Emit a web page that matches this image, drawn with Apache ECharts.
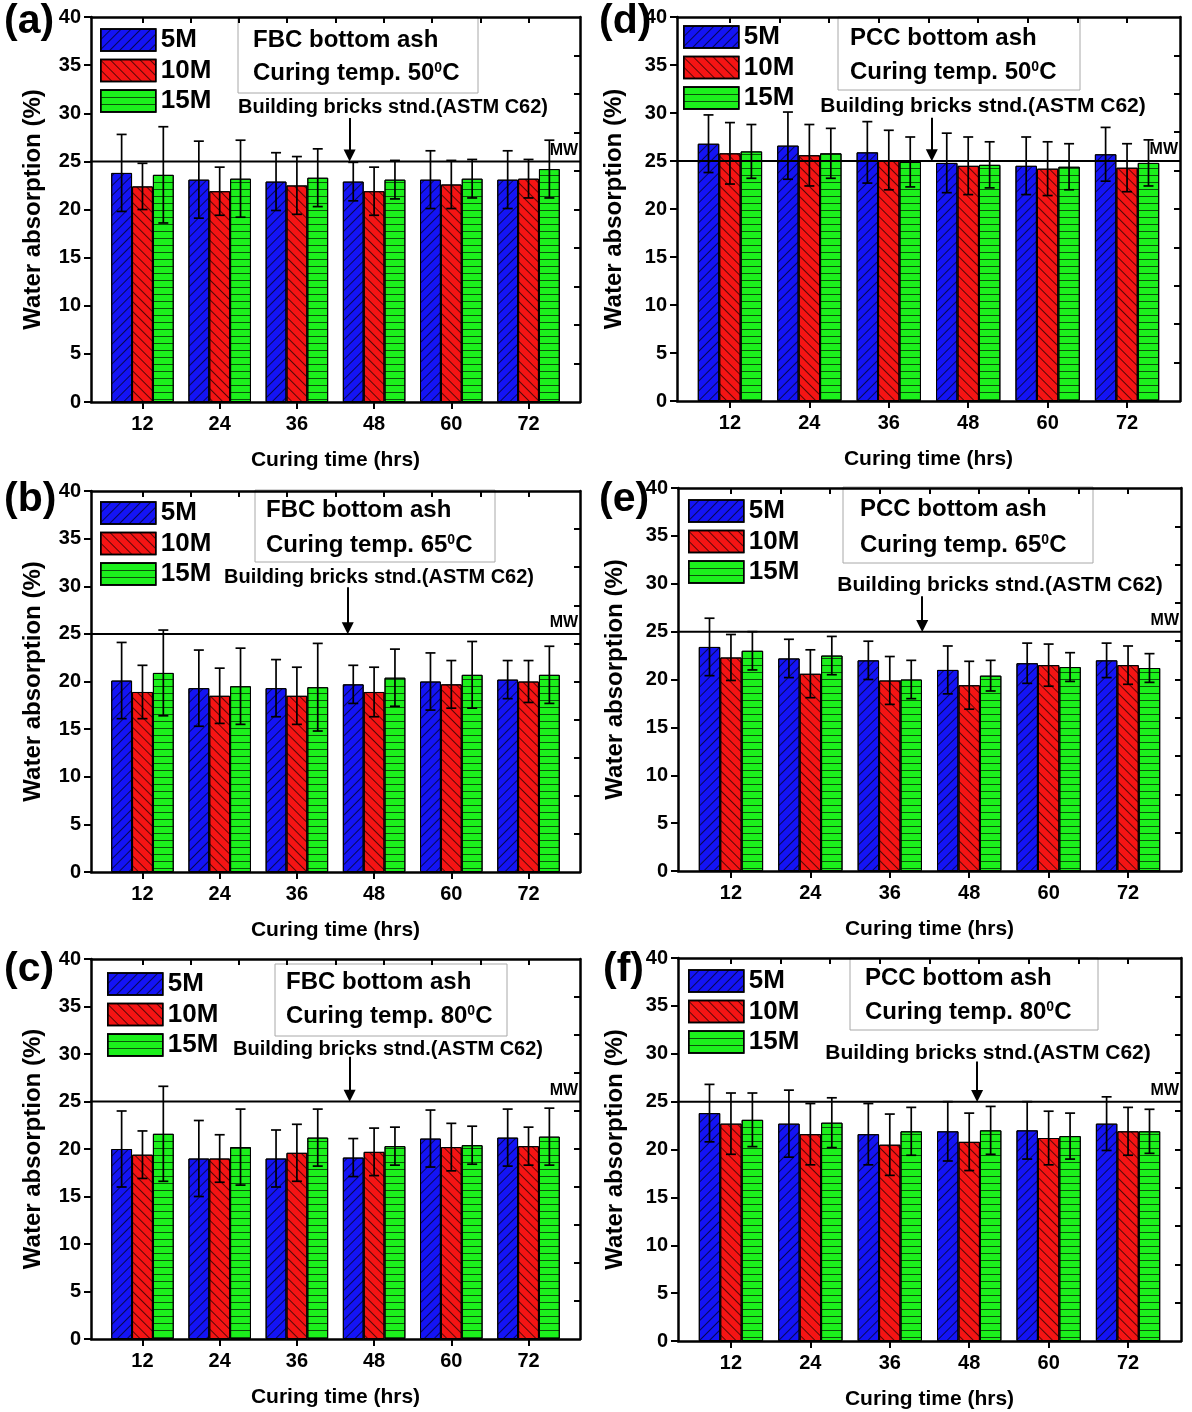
<!DOCTYPE html>
<html><head><meta charset="utf-8">
<script src="https://cdn.jsdelivr.net/npm/echarts@6/dist/echarts.min.js"></script>
<style>html,body{margin:0;padding:0;background:#fff}#c{width:1192px;height:1412px}</style>
</head><body><div id="c"></div>
<script>
// ---------------- data ----------------
const curingTimes = [12, 24, 36, 48, 60, 72];
const seriesNames = ['5M', '10M', '15M'];
const yTickValues = [0, 5, 10, 15, 20, 25, 30, 35, 40];
const topTickValues = [12, 19.5, 27, 34.5, 42, 49.5, 57, 64.5, 72];
const rightTickValues = [4, 8, 12, 16, 20, 24, 28, 32, 36];
const mwLevel = 25;

// (a) FBC bottom ash, 50 C
const fbc50_5M = [23.8, 23.1, 22.9, 22.9, 23.1, 23.1];
const fbc50_5M_err = [4.0, 4.0, 3.0, 2.0, 3.0, 3.0];
const fbc50_10M = [22.4, 21.9, 22.5, 21.9, 22.6, 23.2];
const fbc50_10M_err = [2.4, 2.5, 3.0, 2.5, 2.5, 2.0];
const fbc50_15M = [23.6, 23.2, 23.3, 23.1, 23.2, 24.2];
const fbc50_15M_err = [5.0, 4.0, 3.0, 2.0, 2.0, 3.0];
// (b) FBC bottom ash, 65 C
const fbc65_5M = [20.1, 19.3, 19.3, 19.7, 20.0, 20.2];
const fbc65_5M_err = [4.0, 4.0, 3.0, 2.0, 3.0, 2.0];
const fbc65_10M = [18.9, 18.5, 18.5, 18.9, 19.7, 20.0];
const fbc65_10M_err = [2.8, 2.9, 3.0, 2.6, 2.5, 2.2];
const fbc65_15M = [20.9, 19.5, 19.4, 20.4, 20.7, 20.7];
const fbc65_15M_err = [4.5, 4.0, 4.6, 3.0, 3.5, 3.0];
// (c) FBC bottom ash, 80 C
const fbc80_5M = [20.0, 19.0, 19.0, 19.1, 21.1, 21.2];
const fbc80_5M_err = [4.0, 4.0, 3.0, 2.0, 3.0, 3.0];
const fbc80_10M = [19.4, 19.0, 19.6, 19.7, 20.2, 20.3];
const fbc80_10M_err = [2.5, 2.5, 3.0, 2.5, 2.5, 2.0];
const fbc80_15M = [21.6, 20.2, 21.2, 20.3, 20.4, 21.3];
const fbc80_15M_err = [5.0, 4.0, 3.0, 2.0, 2.0, 3.0];
// (d) PCC bottom ash, 50 C
const pcc50_5M = [26.8, 26.6, 25.9, 24.8, 24.5, 25.7];
const pcc50_5M_err = [3.0, 3.5, 3.2, 3.1, 3.0, 2.8];
const pcc50_10M = [25.8, 25.6, 25.1, 24.5, 24.2, 24.3];
const pcc50_10M_err = [3.2, 3.2, 3.1, 3.0, 2.8, 2.5];
const pcc50_15M = [26.0, 25.8, 24.9, 24.6, 24.4, 24.8];
const pcc50_15M_err = [2.8, 2.6, 2.6, 2.4, 2.4, 2.4];
// (e) PCC bottom ash, 65 C
const pcc65_5M = [23.4, 22.2, 22.0, 21.0, 21.7, 22.0];
const pcc65_5M_err = [3.0, 2.0, 2.0, 2.5, 2.1, 1.8];
const pcc65_10M = [22.3, 20.6, 19.9, 19.4, 21.5, 21.5];
const pcc65_10M_err = [2.4, 2.5, 2.5, 2.5, 2.2, 2.0];
const pcc65_15M = [23.0, 22.5, 20.0, 20.4, 21.3, 21.2];
const pcc65_15M_err = [2.0, 2.0, 2.0, 1.6, 1.5, 1.5];
// (f) PCC bottom ash, 80 C
const pcc80_5M = [23.8, 22.7, 21.6, 21.9, 22.0, 22.7];
const pcc80_5M_err = [3.0, 3.5, 3.2, 3.1, 3.0, 2.8];
const pcc80_10M = [22.7, 21.6, 20.5, 20.8, 21.2, 21.9];
const pcc80_10M_err = [3.2, 3.2, 3.2, 3.0, 2.8, 2.5];
const pcc80_15M = [23.1, 22.8, 21.9, 22.0, 21.4, 21.9];
const pcc80_15M_err = [2.8, 2.6, 2.5, 2.5, 2.4, 2.3];

// ---------------- layout / style ----------------
const FONT = "'Liberation Sans', Arial, sans-serif";
const X_MIN = 4, X_MAX = 80, Y_MIN = 0, Y_MAX = 40;
const BAR_FRAC = 0.27;
const COLORS = ['#1414f5', '#f51414', '#1cf01c'];
const DECALS = [
  {symbol: 'rect', symbolSize: 1, dashArrayX: [1, 0], dashArrayY: [1, 6], rotation: -Math.PI / 4, color: 'rgba(0,0,0,0.65)'},
  {symbol: 'rect', symbolSize: 1, dashArrayX: [1, 0], dashArrayY: [1, 6], rotation: Math.PI / 4, color: 'rgba(0,0,0,0.65)'},
  {symbol: 'rect', symbolSize: 1, dashArrayX: [1, 0], dashArrayY: [1, 6], rotation: 0, color: 'rgba(0,0,0,0.65)'}
];

const panels = [
  {letter: '(a)', ash: 'FBC bottom ash', temp: '50', vals: [fbc50_5M, fbc50_10M, fbc50_15M], errs: [fbc50_5M_err, fbc50_10M_err, fbc50_15M_err],
   grid: {left: 91, top: 17, width: 489, height: 385}, legend: {left: 100, top: 27},
   box: {x: 238, y: 17, w: 240, h: 76, tx: 253, t1: 40, t2: 73}, letterPos: {x: 4, y: 22},
   stnd: {x: 393, y: 107, size: 20}, arrow: {x: 44.2, y: 29.5}, yNameGap: 46},
  {letter: '(b)', ash: 'FBC bottom ash', temp: '65', vals: [fbc65_5M, fbc65_10M, fbc65_15M], errs: [fbc65_5M_err, fbc65_10M_err, fbc65_15M_err],
   grid: {left: 91, top: 491, width: 489, height: 381}, legend: {left: 100, top: 500},
   box: {x: 255, y: 490, w: 240, h: 72, tx: 266, t1: 510, t2: 545}, letterPos: {x: 4, y: 500},
   stnd: {x: 379, y: 577, size: 20}, arrow: {x: 43.9, y: 29.9}, yNameGap: 46},
  {letter: '(c)', ash: 'FBC bottom ash', temp: '80', vals: [fbc80_5M, fbc80_10M, fbc80_15M], errs: [fbc80_5M_err, fbc80_10M_err, fbc80_15M_err],
   grid: {left: 91, top: 959, width: 489, height: 380}, legend: {left: 107, top: 971},
   box: {x: 275, y: 964, w: 232, h: 72, tx: 286, t1: 982, t2: 1016}, letterPos: {x: 4, y: 970},
   stnd: {x: 388, y: 1049, size: 20}, arrow: {x: 44.2, y: 29.7}, yNameGap: 46},
  {letter: '(d)', ash: 'PCC bottom ash', temp: '50', vals: [pcc50_5M, pcc50_10M, pcc50_15M], errs: [pcc50_5M_err, pcc50_10M_err, pcc50_15M_err],
   grid: {left: 677, top: 17, width: 503, height: 384}, legend: {left: 683, top: 24},
   box: {x: 838, y: 17, w: 242, h: 73, tx: 850, t1: 38, t2: 72}, letterPos: {x: 599, y: 22},
   stnd: {x: 983, y: 106, size: 21}, arrow: {x: 42.5, y: 29.5}, yNameGap: 51},
  {letter: '(e)', ash: 'PCC bottom ash', temp: '65', vals: [pcc65_5M, pcc65_10M, pcc65_15M], errs: [pcc65_5M_err, pcc65_10M_err, pcc65_15M_err],
   grid: {left: 678, top: 488, width: 503, height: 383}, legend: {left: 688, top: 498},
   box: {x: 843, y: 487, w: 250, h: 76, tx: 860, t1: 509, t2: 545}, letterPos: {x: 599, y: 500},
   stnd: {x: 1000, y: 585, size: 21}, arrow: {x: 40.9, y: 28.7}, yNameGap: 51},
  {letter: '(f)', ash: 'PCC bottom ash', temp: '80', vals: [pcc80_5M, pcc80_10M, pcc80_15M], errs: [pcc80_5M_err, pcc80_10M_err, pcc80_15M_err],
   grid: {left: 678, top: 958, width: 503, height: 383}, legend: {left: 688, top: 968},
   box: {x: 850, y: 958, w: 248, h: 72, tx: 865, t1: 978, t2: 1012}, letterPos: {x: 603, y: 970},
   stnd: {x: 988, y: 1053, size: 21}, arrow: {x: 49.2, y: 29.2}, yNameGap: 51}
];

const AXIS_LINE = {show: true, onZero: false, lineStyle: {color: '#000', width: 2.5}};
const boldText = (size) => ({color: '#000', fontSize: size, fontWeight: 'bold', fontFamily: FONT});

const option = {animation: false, backgroundColor: '#fff', grid: [], xAxis: [], yAxis: [], legend: [], series: [], graphic: []};
const step = curingTimes[1] - curingTimes[0];

panels.forEach((p, i) => {
  option.grid.push(Object.assign({show: false, containLabel: false, outerBoundsMode: 'none'}, p.grid));
  const xi = option.xAxis.length, yi = option.yAxis.length;
  option.xAxis.push({type: 'value', gridIndex: i, min: X_MIN, max: X_MAX, position: 'bottom',
    name: 'Curing time (hrs)', nameLocation: 'middle', nameGap: 48, nameTextStyle: boldText(21),
    axisLine: AXIS_LINE, splitLine: {show: false},
    axisTick: {show: true, inside: false, length: 7, lineStyle: {color: '#000', width: 2}, customValues: curingTimes},
    axisLabel: Object.assign({show: true, margin: 12, customValues: curingTimes}, boldText(20))});
  option.xAxis.push({type: 'value', gridIndex: i, min: X_MIN, max: X_MAX, position: 'top',
    axisLine: AXIS_LINE, splitLine: {show: false}, axisLabel: {show: false},
    axisTick: {show: true, inside: true, length: 6, lineStyle: {color: '#000', width: 2}, customValues: topTickValues}});
  option.yAxis.push({type: 'value', gridIndex: i, min: Y_MIN, max: Y_MAX, interval: 5, position: 'left',
    name: 'Water absorption (%)', nameLocation: 'middle', nameGap: p.yNameGap, nameTextStyle: boldText(24),
    axisLine: AXIS_LINE, splitLine: {show: false},
    axisTick: {show: true, inside: false, length: 7, lineStyle: {color: '#000', width: 2}},
    axisLabel: Object.assign({show: true, margin: 10, customValues: yTickValues}, boldText(20))});
  option.yAxis.push({type: 'value', gridIndex: i, min: Y_MIN, max: Y_MAX, position: 'right',
    axisLine: AXIS_LINE, splitLine: {show: false}, axisLabel: {show: false},
    axisTick: {show: true, inside: true, length: 6, lineStyle: {color: '#000', width: 2}, customValues: rightTickValues}});

  seriesNames.forEach((name, k) => {
    option.series.push({type: 'bar', name, xAxisIndex: xi, yAxisIndex: yi,
      data: curingTimes.map((t, j) => [t, p.vals[k][j]]),
      barWidth: (BAR_FRAC * 100) + '%', barGap: '0%', z: 2,
      itemStyle: {color: COLORS[k], borderColor: '#000', borderWidth: 1, decal: DECALS[k]},
      emphasis: {disabled: true}, silent: true});
  });

  const errRows = [];
  seriesNames.forEach((name, k) => curingTimes.forEach((t, j) => errRows.push([t, p.vals[k][j], p.errs[k][j], k])));
  option.series.push({type: 'custom', xAxisIndex: xi, yAxisIndex: yi, z: 5, silent: true,
    data: errRows, encode: {x: 0, y: 1},
    renderItem: function (params, api) {
      const x = api.value(0), v = api.value(1), e = api.value(2), k = api.value(3);
      const band = api.size([step, 0])[0];
      const off = (k - 1) * band * BAR_FRAC;
      const top = api.coord([x, v + e]), bot = api.coord([x, v - e]);
      const cx = top[0] + off, cap = 5;
      const st = {stroke: '#000', lineWidth: 1.7};
      return {type: 'group', children: [
        {type: 'line', shape: {x1: cx, y1: top[1], x2: cx, y2: bot[1]}, style: st},
        {type: 'line', shape: {x1: cx - cap, y1: top[1], x2: cx + cap, y2: top[1]}, style: st},
        {type: 'line', shape: {x1: cx - cap, y1: bot[1], x2: cx + cap, y2: bot[1]}, style: st}
      ]};
    }});

  option.series.push({type: 'line', xAxisIndex: xi, yAxisIndex: yi, z: 4, silent: true, clip: false,
    symbol: 'none', lineStyle: {color: '#000', width: 2},
    data: [[X_MIN - 0.8, mwLevel], [X_MAX + 1.7, mwLevel]],
    markLine: {silent: true, symbol: ['none', 'triangle'], symbolSize: 12,
      lineStyle: {color: '#000', width: 2, type: 'solid'}, label: {show: false},
      data: [[{coord: [p.arrow.x, p.arrow.y]}, {coord: [p.arrow.x, mwLevel + 0.6]}]]},
    markPoint: {silent: true, symbol: 'circle', symbolSize: 0,
      data: [{coord: [X_MAX - 0.3, mwLevel]}],
      label: Object.assign({show: true, formatter: 'MW', position: 'top', distance: 3, align: 'right'}, boldText(16))}
  });

  option.legend.push({data: seriesNames, orient: 'vertical', left: p.legend.left, top: p.legend.top, padding: 0,
    itemWidth: 55, itemHeight: 22, itemGap: 4.5, icon: 'rect', selectedMode: false,
    textStyle: Object.assign({lineHeight: 22}, boldText(26)), itemStyle: {borderColor: '#000', borderWidth: 1.5}});

  option.graphic.push(
    {type: 'text', x: p.letterPos.x, y: p.letterPos.y, style: {text: p.letter, font: 'bold 41px ' + FONT, fill: '#000', align: 'left', verticalAlign: 'middle'}},
    {type: 'rect', shape: {x: p.box.x, y: p.box.y, width: p.box.w, height: p.box.h}, style: {fill: 'none', stroke: '#a8a8a8', lineWidth: 1}},
    {type: 'text', x: p.box.tx, y: p.box.t1, style: {text: p.ash, font: 'bold 24px ' + FONT, fill: '#000', align: 'left', verticalAlign: 'middle'}},
    {type: 'text', x: p.box.tx, y: p.box.t2, style: {text: 'Curing temp. ' + p.temp + '{sup|0}C', font: 'bold 24px ' + FONT, fill: '#000', align: 'left', verticalAlign: 'middle',
      rich: {sup: {fontSize: 14, fontWeight: 'bold', fontFamily: FONT, fill: '#000', verticalAlign: 'top', lineHeight: 14}}}},
    {type: 'text', x: p.stnd.x, y: p.stnd.y, style: {text: 'Building bricks stnd.(ASTM C62)', font: 'bold ' + p.stnd.size + 'px ' + FONT, fill: '#000', align: 'center', verticalAlign: 'middle'}}
  );
});

const chart = echarts.init(document.getElementById('c'), null, {renderer: 'canvas'});
chart.setOption(option);
</script></body></html>
